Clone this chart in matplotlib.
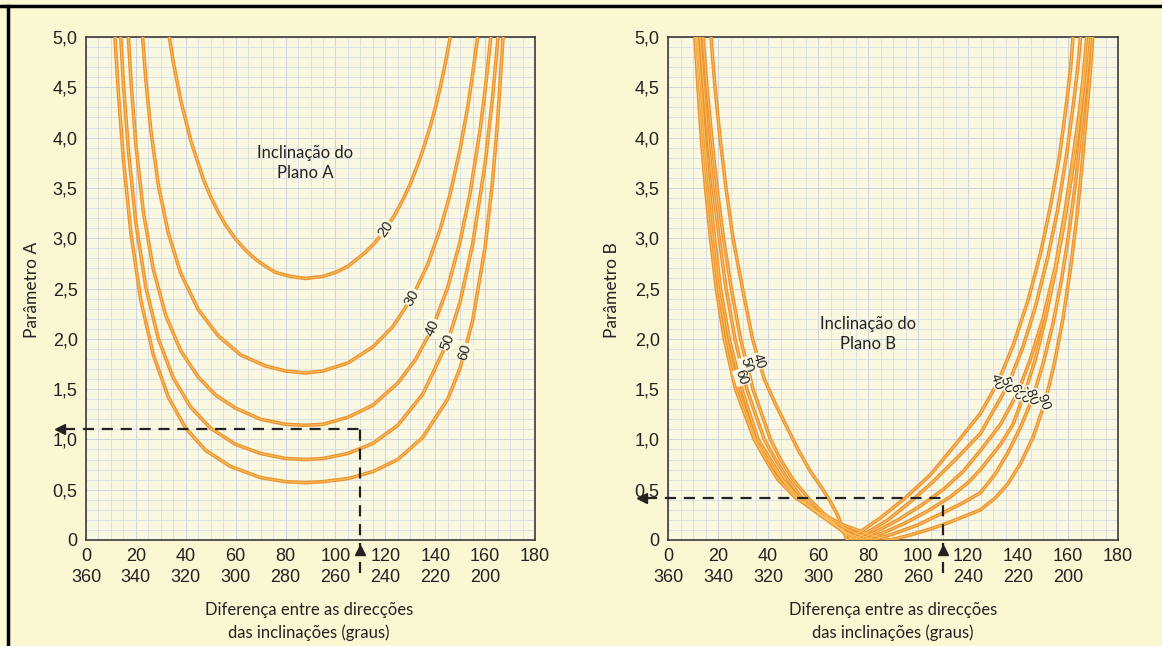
import matplotlib
matplotlib.use("Agg")
import matplotlib.pyplot as plt
from matplotlib.lines import Line2D
from matplotlib.ticker import MultipleLocator
import matplotlib.patheffects as pe

# ---------------- data ----------------
x_ticks = [0, 20, 40, 60, 80, 100, 120, 140, 160, 180]
x_top_labels = ["0", "20", "40", "60", "80", "100", "120", "140", "160", "180"]
x_bot_labels = ["360", "340", "320", "300", "280", "260", "240", "220", "200", ""]
y_ticks = [0, 0.5, 1.0, 1.5, 2.0, 2.5, 3.0, 3.5, 4.0, 4.5, 5.0]
y_labels = ["0", "0,5", "1,0", "1,5", "2,0", "2,5", "3,0", "3,5", "4,0", "4,5", "5,0"]

# Parameter A curves (dip of plane A)
a20_x = [33.4, 35, 38, 42, 47, 50, 53, 56, 60, 64, 68, 72, 76, 82, 88, 95, 100, 105, 112, 116, 120, 123.5, 127, 130, 133, 135.5, 138, 140, 142, 144, 146]
a20_y = [5.0, 4.75, 4.37, 3.97, 3.59, 3.41, 3.26, 3.13, 2.99, 2.88, 2.79, 2.72, 2.66, 2.62, 2.60, 2.62, 2.66, 2.72, 2.86, 2.96, 3.09, 3.22, 3.38, 3.54, 3.73, 3.91, 4.11, 4.29, 4.50, 4.73, 5.0]
a30_x = [22.7, 24, 26, 29, 33, 38, 45, 53, 62, 72, 80, 88, 95, 105, 115, 123, 130.7, 137, 142, 146, 150, 153, 155, 157]
a30_y = [5.0, 4.57, 4.07, 3.53, 3.05, 2.65, 2.29, 2.03, 1.84, 1.73, 1.68, 1.66, 1.68, 1.76, 1.92, 2.12, 2.41, 2.74, 3.09, 3.44, 3.89, 4.30, 4.63, 5.0]
a40_x = [17, 18, 20, 23, 27, 32, 38, 45, 52, 60, 70, 80, 88, 95, 105, 115, 125, 132, 139, 145, 150, 154, 158, 160, 162.3]
a40_y = [5.0, 4.57, 3.93, 3.26, 2.69, 2.23, 1.88, 1.62, 1.44, 1.31, 1.20, 1.15, 1.14, 1.15, 1.22, 1.34, 1.56, 1.79, 2.11, 2.51, 2.97, 3.45, 4.08, 4.47, 5.0]
a50_x = [13.9, 15, 17, 20, 24, 29, 35, 42, 50, 60, 70, 80, 88, 95, 105, 115, 125, 135, 145, 150, 155, 160, 163, 165.2]
a50_y = [5.0, 4.53, 3.87, 3.15, 2.51, 2.00, 1.61, 1.32, 1.11, 0.95, 0.86, 0.81, 0.80, 0.81, 0.86, 0.96, 1.14, 1.45, 1.97, 2.37, 2.94, 3.74, 4.40, 5.0]
a60_x = [11.6, 13, 15, 18, 22, 27, 33, 40, 48, 58, 70, 80, 88, 95, 105, 115, 125, 135, 145, 150, 155, 160, 163, 165, 167.2]
a60_y = [5.0, 4.44, 3.78, 3.05, 2.38, 1.84, 1.42, 1.11, 0.89, 0.73, 0.62, 0.58, 0.57, 0.58, 0.61, 0.68, 0.80, 1.02, 1.40, 1.71, 2.18, 2.91, 3.57, 4.16, 5.0]

# Parameter B curves (dip of plane B)
b40_x = [17.2, 18.8, 20.8, 23.2, 26, 29.8, 33.8, 38.5, 43, 47, 52, 57, 62, 65, 68, 71.6,
         78, 85, 95, 105, 115, 125, 132, 138, 144, 149, 153, 156.5, 159.2, 161, 162]
b40_y = [5.0, 4.5, 4.0, 3.5, 3.0, 2.5, 2.0, 1.6, 1.35, 1.15, 0.9, 0.68, 0.5, 0.38, 0.24, 0.0,
         0.1, 0.22, 0.42, 0.65, 0.95, 1.26, 1.57, 1.93, 2.38, 2.85, 3.32, 3.8, 4.3, 4.68, 5.0]
b50_x = [14, 15.6, 17.5, 19.6, 22.2, 25.3, 29, 34, 41, 45, 50, 56, 62, 67.5, 71, 74,
         80, 88, 97, 106, 115, 125, 136, 142, 147, 152, 156, 159.5, 162.5, 164, 165]
b50_y = [5.0, 4.5, 4.0, 3.5, 3.0, 2.5, 2.0, 1.5, 1.0, 0.8, 0.6, 0.42, 0.27, 0.14, 0.06, 0.0,
         0.08, 0.2, 0.38, 0.58, 0.8, 1.06, 1.54, 1.92, 2.32, 2.82, 3.3, 3.84, 4.4, 4.72, 5.0]
b60_x = [12.8, 14.3, 16, 18, 20.5, 23.2, 26.8, 31.5, 38.5, 43, 48, 53.5, 60, 67, 72, 76,
         83, 92, 101, 110, 118, 125, 133, 140, 145, 150, 155, 159, 162, 164.5, 166.2, 167.5]
b60_y = [5.0, 4.5, 4.0, 3.5, 3.0, 2.5, 2.0, 1.5, 1.0, 0.8, 0.6, 0.42, 0.27, 0.14, 0.06, 0.0,
         0.08, 0.2, 0.34, 0.5, 0.68, 0.89, 1.15, 1.47, 1.8, 2.2, 2.72, 3.3, 3.8, 4.25, 4.62, 5.0]
b70_x = [11.8, 13.2, 14.7, 16.5, 18.6, 21, 24.5, 29.5, 36, 41, 46, 52.5, 59, 66, 72, 78.5,
         86, 95, 104, 113, 120, 125, 133, 138, 142.8, 147, 151, 155, 158.5, 161.5, 164, 166.2, 168.3]
b70_y = [5.0, 4.5, 4.0, 3.5, 3.0, 2.5, 2.0, 1.5, 1.0, 0.8, 0.6, 0.42, 0.28, 0.16, 0.07, 0.0,
         0.07, 0.17, 0.29, 0.43, 0.57, 0.70, 0.95, 1.15, 1.47, 1.8, 2.2, 2.68, 3.15, 3.62, 4.05, 4.5, 5.0]
b80_x = [11.3, 12.6, 14, 15.7, 17.8, 20.2, 23.5, 28, 35, 40, 45.5, 51.5, 58, 66, 74, 82,
         90, 100, 110, 118, 125, 131, 136, 141, 146, 150, 154, 157.5, 160.5, 163, 165.2, 167.2, 169.1]
b80_y = [5.0, 4.5, 4.0, 3.5, 3.0, 2.5, 2.0, 1.5, 1.0, 0.8, 0.6, 0.42, 0.3, 0.18, 0.08, 0.0,
         0.06, 0.15, 0.27, 0.37, 0.47, 0.66, 0.87, 1.12, 1.42, 1.75, 2.15, 2.6, 3.08, 3.55, 4.05, 4.52, 5.0]
b90_x = [10.8, 12, 13.3, 15, 17, 19.3, 22.5, 27, 34.5, 39, 44, 51, 60, 70, 80, 88.8,
         97, 105, 112, 118, 125, 131, 136, 141, 146, 150.8, 154.5, 158, 161, 163.5, 165.5, 167.3, 168.8, 169.9]
b90_y = [5.0, 4.5, 4.0, 3.5, 3.0, 2.5, 2.0, 1.5, 1.0, 0.8, 0.6, 0.42, 0.28, 0.15, 0.06, 0.0,
         0.05, 0.11, 0.17, 0.23, 0.30, 0.42, 0.56, 0.76, 1.02, 1.37, 1.75, 2.2, 2.7, 3.2, 3.7, 4.2, 4.62, 5.0]

a_curves = [(a20_x, a20_y), (a30_x, a30_y), (a40_x, a40_y), (a50_x, a50_y), (a60_x, a60_y)]
b_curves = [(b40_x, b40_y), (b50_x, b50_y), (b60_x, b60_y), (b70_x, b70_y), (b80_x, b80_y), (b90_x, b90_y)]

a_labels = ["20", "30", "40", "50", "60"]
a_label_pos = [(120, 3.09), (130.7, 2.41), (139, 2.11), (145, 1.97), (152, 1.87)]
a_label_rot = [55, 61, 66, 69, 74]

b_left_labels = ["40", "50", "60"]
b_left_pos = [(36.5, 1.78), (31.5, 1.74), (29.5, 1.62)]
b_right_labels = ["40", "50", "60", "70", "80", "90"]
b_right_pos = [(132, 1.57), (136, 1.54), (140, 1.47), (142.8, 1.44), (146, 1.42), (150.8, 1.37)]

a_example_x, a_example_y = 110, 1.10
b_example_x, b_example_y = 110, 0.42

# ---------------- style ----------------
BG = "#FCF7D3"
PLOT_BG = "#FBF8E2"
GRID = "#D6DEE2"
ORANGE = "#EE9333"
HIGHLIGHT = "#F8C25C"
TICK_FONT = "Liberation Sans"
TEXT_FONT = "Lato"
INK = "#222222"

fig = plt.figure(figsize=(11.62, 6.46), dpi=100)
fig.patch.set_facecolor(BG)

W, H = 1162, 646

def axes_at(x0, x1, y0, y1):
    return fig.add_axes([x0 / W, 1 - y1 / H, (x1 - x0) / W, (y1 - y0) / H])

axA = axes_at(86, 535, 37, 540)
axB = axes_at(668, 1118, 37, 540)

def style_axes(ax):
    ax.set_facecolor(PLOT_BG)
    ax.set_xlim(0, 180)
    ax.set_ylim(0, 5)
    ax.xaxis.set_minor_locator(MultipleLocator(5))
    ax.yaxis.set_minor_locator(MultipleLocator(0.1))
    ax.grid(which="minor", color=GRID, lw=0.6)
    ax.grid(which="major", color="#CCD6DC", lw=0.8)
    ax.set_axisbelow(True)
    ax.set_xticks(x_ticks)
    ax.set_xticklabels([f"{a}\n{b}" if b else a for a, b in zip(x_top_labels, x_bot_labels)],
                       fontfamily=TICK_FONT, fontsize=13, linespacing=1.3, va="top")
    ax.set_yticks(y_ticks)
    ax.set_yticklabels(y_labels, fontfamily=TICK_FONT, fontsize=13)
    ax.tick_params(which="both", length=0, pad=6, colors=INK)
    for s in ax.spines.values():
        s.set_color("#3a3a3a")
        s.set_linewidth(1.2)

def draw_curve(ax, xs, ys):
    ax.plot(xs, ys, color=ORANGE, lw=2.6, solid_capstyle="butt", solid_joinstyle="round", zorder=3)
    ax.plot(xs, ys, color=HIGHLIGHT, lw=0.7, solid_joinstyle="round", zorder=3.1)

def dashed_guide(ax, xv, yv):
    kw = dict(color=INK, lw=1.6, dashes=(5, 3.5), clip_on=False, zorder=5)
    ax.plot([-9, xv], [yv, yv], **kw)
    ax.plot([xv, xv], [-0.33, yv], **kw)
    ax.plot([-10.5], [yv], marker="<", color=INK, ms=7, clip_on=False, zorder=6)
    ax.plot([xv], [-0.1], marker="^", color=INK, ms=7, clip_on=False, zorder=6)

lab_box = dict(facecolor=PLOT_BG, edgecolor="none", pad=0.5)
halo = [pe.withStroke(linewidth=2.5, foreground=PLOT_BG)]

# ---- Panel A ----
style_axes(axA)
for xs, ys in a_curves:
    draw_curve(axA, xs, ys)
for t, (x, y), r in zip(a_labels, a_label_pos, a_label_rot):
    axA.text(x, y, t, rotation=r, ha="center", va="center", fontsize=10.5,
             fontfamily=TICK_FONT, color=INK, bbox=lab_box, zorder=4)
dashed_guide(axA, a_example_x, a_example_y)
axA.text(88, 3.75, "Inclinação do\nPlano A", ha="center", va="center", fontsize=12,
         fontfamily=TEXT_FONT, color=INK, linespacing=1.3)

# ---- Panel B ----
style_axes(axB)
for xs, ys in b_curves:
    draw_curve(axB, xs, ys)
for t, (x, y) in zip(b_left_labels, b_left_pos):
    axB.text(x, y, t, rotation=-72, ha="center", va="center", fontsize=10,
             fontfamily=TICK_FONT, color=INK, bbox=lab_box, zorder=4)
for t, (x, y) in zip(b_right_labels, b_right_pos):
    axB.text(x, y, t, rotation=-70, ha="center", va="center", fontsize=10,
             fontfamily=TICK_FONT, color=INK, path_effects=halo, zorder=4)
dashed_guide(axB, b_example_x, b_example_y)
axB.text(80, 2.05, "Inclinação do\nPlano B", ha="center", va="center", fontsize=12,
         fontfamily=TEXT_FONT, color=INK, linespacing=1.3)

# axis titles placed as in the reference
for cx, ylab in [(32, "Parâmetro A"), (612, "Parâmetro B")]:
    fig.text(cx / W, 1 - 290 / H, ylab, rotation=90, ha="center", va="center",
             fontfamily=TEXT_FONT, fontsize=12.5, color=INK)
for cx in (309, 893):
    fig.text(cx / W, 1 - 610 / H, "Diferença entre as direcções", ha="center", va="center",
             fontfamily=TEXT_FONT, fontsize=12, color=INK)
    fig.text(cx / W, 1 - 633 / H, "das inclinações (graus)", ha="center", va="center",
             fontfamily=TEXT_FONT, fontsize=12, color=INK)

# outer frame lines
fig.add_artist(Line2D([0, 1], [1 - 6 / H, 1 - 6 / H], color="black", lw=2.5))
fig.add_artist(Line2D([8 / W, 8 / W], [0, 1 - 6 / H], color="black", lw=2.5))

fig.savefig("out.png", dpi=100, facecolor=fig.get_facecolor())
